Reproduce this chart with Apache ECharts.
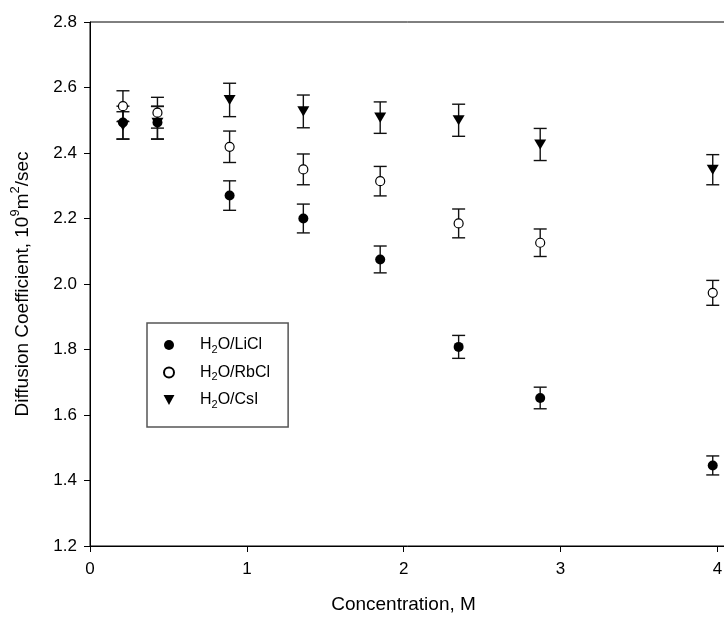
<!DOCTYPE html>
<html>
<head>
<meta charset="utf-8">
<title>Diffusion Coefficient vs Concentration</title>
<script src="https://cdn.jsdelivr.net/npm/echarts@6/dist/echarts.min.js"></script>
<style>
  html, body { margin: 0; padding: 0; background: #fff; }
  #chart { width: 724px; height: 619px; }
</style>
</head>
<body>
<div id="chart"></div>
<script>
// Concentration (M) of each measurement
const concentration = [0.21, 0.43, 0.89, 1.36, 1.85, 2.35, 2.87, 3.97];

// Diffusion coefficients (10^9 m^2/sec) and their error-bar half widths
const liclValues = [2.493, 2.493, 2.270, 2.200, 2.075, 1.808, 1.652, 1.446];
const liclErrors = [0.050, 0.050, 0.045, 0.044, 0.041, 0.035, 0.033, 0.029];

const rbclValues = [2.543, 2.523, 2.419, 2.350, 2.314, 2.185, 2.126, 1.973];
const rbclErrors = [0.047, 0.047, 0.048, 0.047, 0.045, 0.044, 0.042, 0.038];

const csiValues  = [2.484, 2.492, 2.562, 2.527, 2.508, 2.500, 2.426, 2.349];
const csiErrors  = [0.042, 0.050, 0.051, 0.050, 0.048, 0.049, 0.049, 0.046];

const yTicks = [1.2, 1.4, 1.6, 1.8, 2.0, 2.2, 2.4, 2.6, 2.8];
const xTicks = [0, 1, 2, 3, 4];

const seriesNames = ['H2O/LiCl', 'H2O/RbCl', 'H2O/CsI'];

const TRIANGLE_DOWN = 'path://M0,0L12,0L6,11Z';

function points(values) {
  return concentration.map((x, i) => [x, values[i]]);
}
function bars(values, errors) {
  return concentration.map((x, i) => [x, values[i] - errors[i], values[i] + errors[i]]);
}

function renderErrorBar(params, api) {
  const x = api.value(0);
  const lo = api.coord([x, api.value(1)]);
  const hi = api.coord([x, api.value(2)]);
  const half = 6.5;
  const style = { stroke: '#111', lineWidth: 1.4, fill: null };
  return {
    type: 'group',
    children: [
      { type: 'line', shape: { x1: lo[0], y1: lo[1], x2: hi[0], y2: hi[1] }, style },
      { type: 'line', shape: { x1: lo[0] - half, y1: lo[1], x2: lo[0] + half, y2: lo[1] }, style },
      { type: 'line', shape: { x1: hi[0] - half, y1: hi[1], x2: hi[0] + half, y2: hi[1] }, style }
    ]
  };
}

function errorSeries(values, errors) {
  return {
    type: 'custom',
    renderItem: renderErrorBar,
    data: bars(values, errors),
    encode: { x: 0, y: [1, 2] },
    silent: true,
    z: 1
  };
}

const FONT = 'Liberation Sans, Arial, Helvetica, sans-serif';

const chart = echarts.init(document.getElementById('chart'), null, { renderer: 'canvas' });

chart.setOption({
  animation: false,
  backgroundColor: '#ffffff',
  textStyle: { fontFamily: FONT, color: '#000' },
  grid: {
    left: 90, top: 22, width: 640, height: 524,
    outerBoundsMode: 'none',
    containLabel: false,
    show: true, borderColor: '#000', borderWidth: 1, backgroundColor: 'transparent'
  },
  xAxis: {
    type: 'value',
    min: xTicks[0],
    max: 4.08,
    interval: 1,
    axisLine: { show: true, onZero: false, lineStyle: { color: '#000', width: 1 } },
    axisTick: { show: true, inside: false, length: 6, lineStyle: { color: '#000' } },
    splitLine: { show: false },
    axisLabel: {
      margin: 15,
      fontSize: 17,
      fontFamily: FONT,
      color: '#000',
      formatter: v => (xTicks.indexOf(v) >= 0 ? String(v) : '')
    },
    name: 'Concentration, M',
    nameLocation: 'middle',
    nameGap: 49,
    nameTextStyle: { fontSize: 19, fontFamily: FONT, color: '#000', padding: [0, 13, 0, 0] }
  },
  yAxis: {
    type: 'value',
    min: yTicks[0],
    max: yTicks[yTicks.length - 1],
    interval: 0.2,
    axisLine: { show: true, lineStyle: { color: '#000', width: 1 } },
    axisTick: { show: true, inside: false, length: 6, lineStyle: { color: '#000' } },
    splitLine: { show: false },
    axisLabel: {
      margin: 13,
      fontSize: 17,
      fontFamily: FONT,
      color: '#000',
      formatter: v => v.toFixed(1)
    },
    name: '{t|Diffusion Coefficient, 10}{s|9}{t|m}{s|2}{t|/sec}',
    nameLocation: 'middle',
    nameGap: 58,
    nameRotate: 90,
    nameTextStyle: {
      fontFamily: FONT,
      color: '#000',
      rich: {
        t: { fontSize: 19, fontFamily: FONT, color: '#000', lineHeight: 23, verticalAlign: 'bottom' },
        s: { fontSize: 13, fontFamily: FONT, color: '#000', lineHeight: 23, verticalAlign: 'top' }
      }
    }
  },
  legend: {
    show: true,
    orient: 'vertical',
    left: 147,
    top: 323,
    padding: [14, 18, 17, 16],
    itemGap: 9.5,
    itemWidth: 14,
    itemHeight: 10,
    borderColor: '#555',
    borderWidth: 1.5,
    backgroundColor: '#fff',
    data: seriesNames,
    formatter: name => {
      const parts = name.split('2');
      return '{sp|}{t|' + parts[0] + '}{b|2}{t|' + parts.slice(1).join('2') + '}';
    },
    textStyle: {
      fontFamily: FONT,
      color: '#000',
      width: 92,
      rich: {
        sp: { width: 19, lineHeight: 20 },
        t: { fontSize: 16, fontFamily: FONT, color: '#000', lineHeight: 20 },
        b: { fontSize: 11, fontFamily: FONT, color: '#000', lineHeight: 20, verticalAlign: 'bottom' }
      }
    }
  },
  series: [
    errorSeries(liclValues, liclErrors),
    errorSeries(rbclValues, rbclErrors),
    errorSeries(csiValues, csiErrors),
    {
      name: seriesNames[0],
      type: 'scatter',
      data: points(liclValues),
      symbol: 'circle',
      symbolSize: 10,
      itemStyle: { color: '#000', borderColor: '#000', borderWidth: 0, opacity: 1 },
      z: 3
    },
    {
      name: seriesNames[1],
      type: 'scatter',
      data: points(rbclValues),
      symbol: 'circle',
      symbolSize: 9,
      itemStyle: { color: '#fff', borderColor: '#000', borderWidth: 1.2, opacity: 1 },
      z: 2
    },
    {
      name: seriesNames[2],
      type: 'scatter',
      data: points(csiValues),
      symbol: TRIANGLE_DOWN,
      symbolSize: [12, 11],
      symbolKeepAspect: true,
      itemStyle: { color: '#000', borderWidth: 0, opacity: 1 },
      z: 3
    }
  ]
});
</script>
</body>
</html>
